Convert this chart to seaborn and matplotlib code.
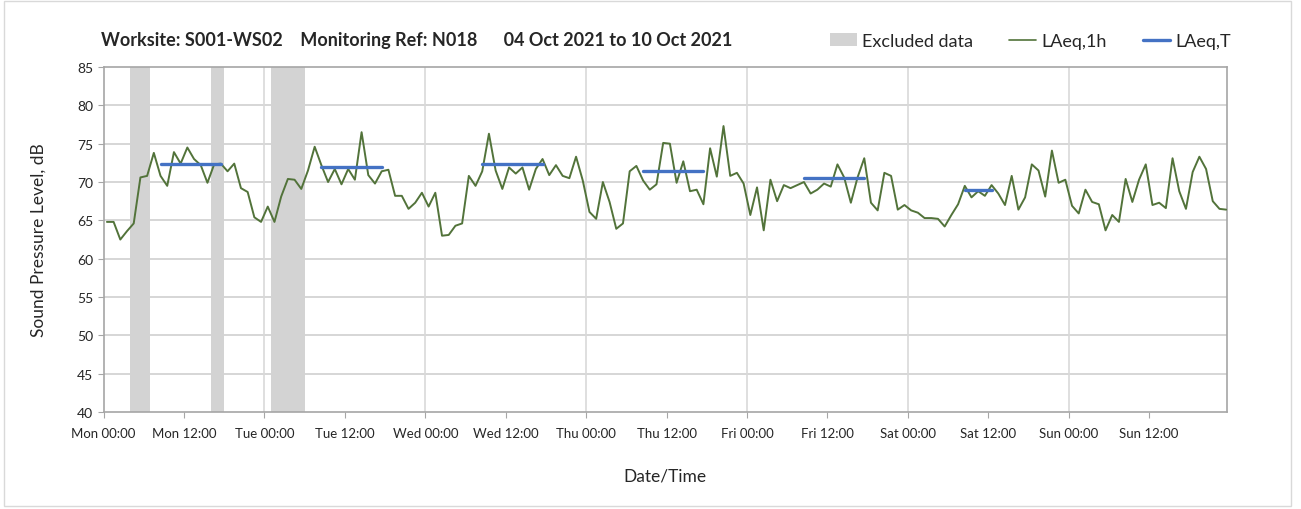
import numpy as np
import pandas as pd
import matplotlib
matplotlib.use("Agg")
import matplotlib.pyplot as plt
from matplotlib.patches import Patch, Rectangle
from matplotlib.lines import Line2D
import seaborn as sns

# hourly LAeq,1h values, Mon 04 Oct 00:00 onwards
laeq_1h = [
    64.8, 64.8, 62.5, 63.6, 64.6, 70.6, 70.8, 73.8, 70.8, 69.5, 73.9, 72.4,
    74.5, 73.0, 72.2, 69.9, 72.3, 72.4, 71.4, 72.4, 69.2, 68.7, 65.4, 64.8,
    66.8, 64.8, 68.1, 70.4, 70.3, 69.1, 71.5, 74.6, 72.2, 70.0, 71.7, 69.7,
    71.7, 70.3, 76.5, 70.9, 69.8, 71.4, 71.6, 68.2, 68.2, 66.5, 67.3, 68.6,
    66.8, 68.6, 63.0, 63.1, 64.3, 64.6, 70.8, 69.5, 71.4, 76.3, 71.5, 69.1,
    71.9, 71.1, 71.9, 69.0, 71.7, 73.0, 70.9, 72.2, 70.8, 70.5, 73.3, 70.2,
    66.1, 65.2, 70.0, 67.4, 63.9, 64.6, 71.4, 72.1, 70.2, 69.0, 69.7, 75.1,
    75.0, 69.9, 72.7, 68.8, 69.0, 67.1, 74.4, 70.7, 77.3, 70.8, 71.2, 69.8,
    65.7, 69.3, 63.7, 70.3, 67.5, 69.6, 69.2, 69.6, 70.0, 68.5, 69.0, 69.8,
    69.4, 72.3, 70.6, 67.3, 70.6, 73.1, 67.3, 66.3, 71.2, 70.8, 66.4, 67.0,
    66.3, 66.0, 65.3, 65.3, 65.2, 64.2, 65.7, 67.1, 69.5, 68.0, 68.8, 68.2,
    69.6, 68.5, 67.0, 70.8, 66.4, 68.0, 72.3, 71.5, 68.1, 74.1, 69.9, 70.3,
    66.9, 65.9, 69.0, 67.4, 67.1, 63.7, 65.7, 64.8, 70.4, 67.4, 70.3, 72.3,
    67.0, 67.3, 66.6, 73.1, 68.8, 66.5, 71.3, 73.3, 71.7, 67.5, 66.5, 66.4,
]

# daytime LAeq,T periods (hour index of first and last hour)
period_day = ["Mon", "Tue", "Wed", "Thu", "Fri", "Sat"]
period_start = [8, 32, 56, 80, 104, 128]
period_end = [17, 41, 65, 89, 113, 132]
period_level = [72.3, 72.0, 72.3, 71.5, 70.5, 68.9]

excluded_hours = [4, 5, 6, 16, 17, 25, 26, 27, 28, 29]

tick_labels = ["Mon 00:00", "Mon 12:00", "Tue 00:00", "Tue 12:00", "Wed 00:00",
               "Wed 12:00", "Thu 00:00", "Thu 12:00", "Fri 00:00", "Fri 12:00",
               "Sat 00:00", "Sat 12:00", "Sun 00:00", "Sun 12:00"]

green = "#52733A"
blue = "#4472C4"
grey_band = "#D3D3D3"

hourly = pd.DataFrame({"hour": np.arange(len(laeq_1h)) + 0.5, "level": laeq_1h})
periods = pd.DataFrame({
    "day": period_day * 2,
    "hour": [s + 0.5 for s in period_start] + [e + 0.5 for e in period_end],
    "level": period_level * 2,
})

sns.set_style("white")
plt.rcParams["font.family"] = ["Lato", "DejaVu Sans"]

fig = plt.figure(figsize=(13.01, 5.10), dpi=100)
ax = fig.add_axes([0.0796, 0.190, 0.8634, 0.6767])

for h in excluded_hours:
    ax.axvspan(h, h + 1, color=grey_band, lw=0, zorder=1)

sns.lineplot(data=hourly, x="hour", y="level", color=green, lw=1.4, ax=ax, zorder=3)
sns.lineplot(data=periods, x="hour", y="level", units="day", estimator=None,
             color=blue, lw=2.4, ax=ax, zorder=4)

ax.set_xlim(0, 167.6)
ax.set_ylim(40, 85)
ax.set_yticks(np.arange(40, 86, 5))
ax.set_xticks(np.arange(0, 168, 12))
ax.set_xticklabels(tick_labels, fontsize=9.5)
ax.tick_params(axis="y", labelsize=10)
ax.tick_params(axis="both", length=4, color="#A6A6A6", direction="out")
ax.tick_params(axis="x", pad=7)
ax.tick_params(axis="both", which="both", bottom=True, left=True)

for y in np.arange(45, 85, 5):
    ax.axhline(y, color="#D0D0D0", lw=1.2, zorder=0)
for x in np.arange(24, 168, 24):
    ax.axvline(x, color="#D9D9D9", lw=1.2, zorder=0)
for s in ax.spines.values():
    s.set_color("#A6A6A6")
    s.set_linewidth(1.2)

ax.set_xlabel("Date/Time", fontsize=12.5, labelpad=20)
ax.set_ylabel("Sound Pressure Level, dB", fontsize=12.5, labelpad=22)

fig.text(0.0776, 0.92,
         "Worksite: S001-WS02    Monitoring Ref: N018      04 Oct 2021 to 10 Oct 2021",
         fontsize=13, fontweight="bold", va="center", ha="left")

handles = [Patch(facecolor=grey_band, edgecolor="none"),
           Line2D([], [], color=green, lw=1.2),
           Line2D([], [], color=blue, lw=2.4)]
fig.legend(handles, ["Excluded data", "LAeq,1h", "LAeq,T"], ncol=3, frameon=False,
           loc="center right", bbox_to_anchor=(0.959, 0.918), fontsize=13,
           handlelength=1.5, handletextpad=0.3, columnspacing=2.0)

fig.patches.append(Rectangle((0.003, 0.006), 0.989, 0.99, transform=fig.transFigure,
                             fill=False, edgecolor="#D9D9D9", lw=1))

fig.savefig("out.png", dpi=100)
